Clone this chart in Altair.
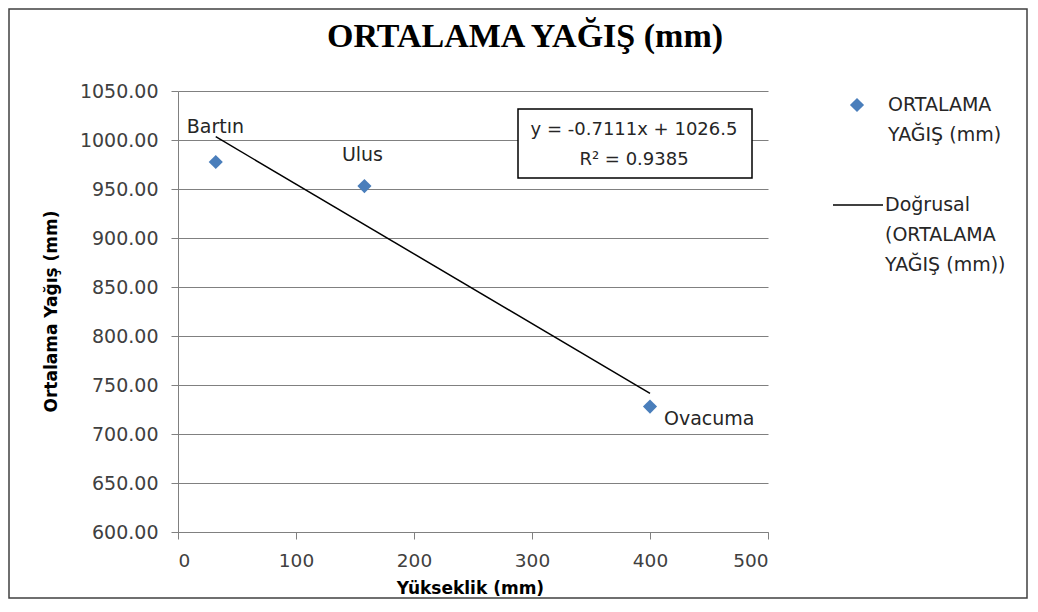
import altair as alt
import pandas as pd

# ---- data ----
stations = ["Bartın", "Ulus", "Ovacuma"]
elevation = [32, 158, 400]
rainfall = [977.5, 953.0, 728.0]

x_ticks = [0, 100, 200, 300, 400, 500]
y_ticks = [600, 650, 700, 750, 800, 850, 900, 950, 1000, 1050]

chart_title = ["ORTALAMA YAĞIŞ (mm)"]
x_title = "Yükseklik (mm)"
y_title = "Ortalama Yağış (mm)"
equation_lines = ["y = -0.7111x + 1026.5", "R² = 0.9385"]
legend_series = ["ORTALAMA", "YAĞIŞ (mm)"]
legend_trend = ["Doğrusal", "(ORTALAMA", "YAĞIŞ (mm))"]

df = pd.DataFrame({"station": stations, "elev": elevation, "rain": rainfall})

FONT = "DejaVu Sans"
TXT = "#262626"
GRAY = "#808080"
BLUE = "#4A7EBB"
W, H = 590, 441
TOP, BOTTOM = 83, 67

x_scale = alt.Scale(domain=[0, 500], nice=False, zero=False)
y_scale = alt.Scale(domain=[600, 1050], nice=False, zero=False)

base = alt.Chart(df)

x_axis = alt.Axis(values=x_ticks, title=x_title, grid=False, format="d",
                  labelFont=FONT, labelFontSize=18.5, labelColor="#404040",
                  labelPadding=12, tickSize=7, tickColor=GRAY, domainColor=GRAY,
                  titleFont=FONT, titleFontSize=17, titleFontWeight="bold",
                  titleColor="black", titleX=292, titleY=56,
                  titleBaseline="middle", titleAlign="center")
y_axis = alt.Axis(values=y_ticks, title=y_title, grid=True, format=".2f",
                  gridColor=GRAY, gridWidth=1.2,
                  labelFont=FONT, labelFontSize=19, labelColor="#404040",
                  labelPadding=13, tickSize=7, tickColor=GRAY, domainColor=GRAY,
                  titleFont=FONT, titleFontSize=17, titleFontWeight="bold",
                  titleColor="black", titleX=-127, titleY=220,
                  titleAngle=270, titleBaseline="middle", titleAlign="center")

X = alt.X("elev:Q", scale=x_scale, axis=x_axis)
Y = alt.Y("rain:Q", scale=y_scale, axis=y_axis)

points = base.mark_point(shape="diamond", filled=True, size=200, color=BLUE,
                         opacity=1).encode(x=X, y=Y)

trend = base.transform_regression("elev", "rain", method="linear").mark_line(
    color="black", strokeWidth=1.5).encode(x=X, y=Y)


def point_label(name, align, dx, dy):
    return base.transform_filter(alt.datum.station == name).mark_text(
        align=align, baseline="middle", dx=dx, dy=dy, font=FONT,
        fontSize=19, color=TXT).encode(x=X, y=Y, text="station:N")


labels = [
    point_label("Bartın", "left", -29, -35),
    point_label("Ulus", "center", -2, -31),
    point_label("Ovacuma", "left", 14, 12),
]


def text_at(s, x, y, size=18, align="left", font=FONT, weight="normal",
            color=TXT):
    return alt.Chart(pd.DataFrame({"t": [s]})).mark_text(
        align=align, baseline="middle", font=font, fontSize=size,
        fontWeight=weight, color=color).encode(
        x=alt.value(x), y=alt.value(y), text="t:N")


one = pd.DataFrame({"k": [0]})

frame = alt.Chart(one).mark_rect(fill=None, stroke="#404040",
                                 strokeWidth=1.5).encode(
    x=alt.value(-169), x2=alt.value(849), y=alt.value(1 - TOP),
    y2=alt.value(TOP + H + BOTTOM - 1 - TOP))

eq_box = alt.Chart(one).mark_rect(fill="white", stroke="black",
                                  strokeWidth=1.5).encode(
    x=alt.value(340), x2=alt.value(574), y=alt.value(18), y2=alt.value(87))

eq_texts = [
    text_at(equation_lines[0], 456, 39, align="center"),
    text_at(equation_lines[1], 456, 69, align="center"),
]

title = text_at(chart_title[0], 347, -54, size=34, align="center",
                font="Liberation Serif", weight="bold", color="black")

legend_diamond = alt.Chart(one).mark_point(shape="diamond", filled=True,
                                           size=200, color=BLUE,
                                           opacity=1).encode(
    x=alt.value(679), y=alt.value(14))
legend_line = alt.Chart(one).mark_rule(color="black", strokeWidth=1.5).encode(
    x=alt.value(655), x2=alt.value(705), y=alt.value(114))

legend_texts = [
    text_at(legend_series[0], 710, 14, size=19),
    text_at(legend_series[1], 710, 44, size=19),
    text_at(legend_trend[0], 707, 114, size=19),
    text_at(legend_trend[1], 707, 144, size=19),
    text_at(legend_trend[2], 707, 174, size=19),
]

chart = alt.layer(
    frame, points, trend, *labels, eq_box, *eq_texts, title,
    legend_diamond, legend_line, *legend_texts,
).properties(
    width=W, height=H,
    autosize=alt.AutoSizeParams(type="none"),
    padding={"left": 170, "top": TOP, "right": 260, "bottom": BOTTOM},
    background="white",
).configure_view(stroke=None)

chart.save("out.html", embed_options={"renderer": "svg", "actions": False})
